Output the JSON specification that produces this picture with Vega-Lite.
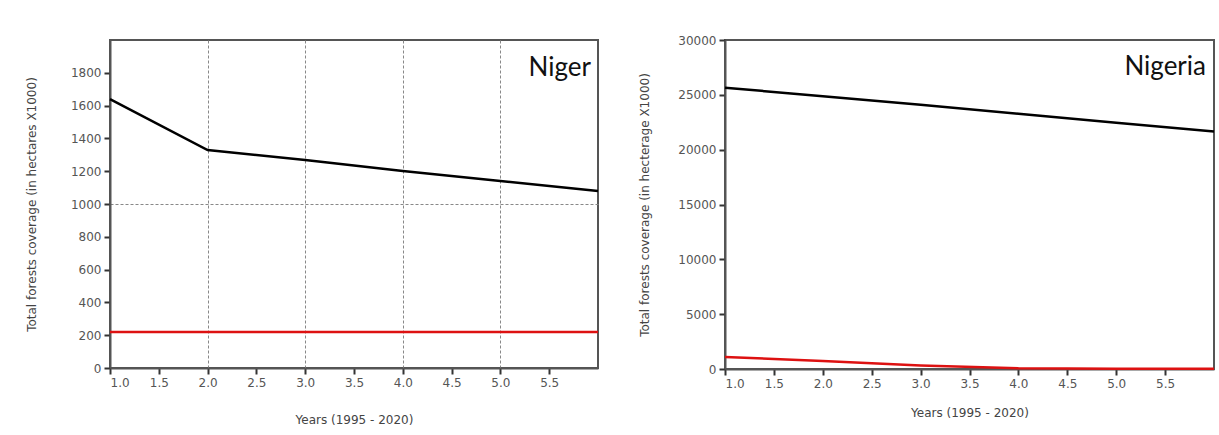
{
  "$schema": "https://vega.github.io/schema/vega-lite/v6.json",
  "background": "white",
  "padding": {"left": 24, "top": 33, "right": 0, "bottom": 0},
  "spacing": 33,
  "config": {
    "view": {"stroke": "#555", "strokeWidth": 2},
    "axis": {
      "labelFont": "DejaVu Sans", "labelFontSize": 12, "labelColor": "#555", "labelOverlap": false,
      "titleFont": "DejaVu Sans", "titleFontSize": 12, "titleFontWeight": "normal", "titleColor": "#444",
      "domainColor": "#555", "domainWidth": 2, "tickColor": "#333", "tickWidth": 2, "tickSize": 6,
      "grid": false, "labelPadding": 3
    }
  },
  "datasets": {
    "niger": [
      {"series": "Total forest", "year": 1, "value": 1640},
      {"series": "Total forest", "year": 2, "value": 1329},
      {"series": "Total forest", "year": 3, "value": 1268},
      {"series": "Total forest", "year": 4, "value": 1201},
      {"series": "Total forest", "year": 5, "value": 1140},
      {"series": "Total forest", "year": 6, "value": 1079},
      {"series": "Other", "year": 1, "value": 219},
      {"series": "Other", "year": 2, "value": 219},
      {"series": "Other", "year": 3, "value": 219},
      {"series": "Other", "year": 4, "value": 219},
      {"series": "Other", "year": 5, "value": 219},
      {"series": "Other", "year": 6, "value": 219}
    ],
    "nigeria": [
      {"series": "Total forest", "year": 1, "value": 25650},
      {"series": "Total forest", "year": 2, "value": 24880},
      {"series": "Total forest", "year": 3, "value": 24100},
      {"series": "Total forest", "year": 4, "value": 23280},
      {"series": "Total forest", "year": 5, "value": 22450},
      {"series": "Total forest", "year": 6, "value": 21650},
      {"series": "Other", "year": 1, "value": 1100},
      {"series": "Other", "year": 2, "value": 720},
      {"series": "Other", "year": 3, "value": 320},
      {"series": "Other", "year": 4, "value": 60},
      {"series": "Other", "year": 5, "value": 20},
      {"series": "Other", "year": 6, "value": 20}
    ],
    "labels": [{"country": "Niger"}, {"country": "Nigeria"}]
  },
  "hconcat": [
    {
      "width": 488,
      "height": 328,
      "layer": [
        {
          "data": {"name": "niger"},
          "mark": {"type": "line", "strokeWidth": 2.5},
          "encoding": {
            "x": {"field": "year", "type": "quantitative", "scale": {"domain": [1, 6], "nice": false, "zero": false},
                  "axis": {"values": [1, 1.5, 2, 2.5, 3, 3.5, 4, 4.5, 5, 5.5], "tickCount": 20, "format": ".1f", "labelOverlap": false,
                           "grid": true, "gridColor": "#888", "gridDash": [3, 2], "gridWidth": 1,
                           "gridOpacity": {"condition": {"test": "datum.value === 2 || datum.value === 3 || datum.value === 4 || datum.value === 5", "value": 1}, "value": 0},
                           "title": "Years (1995 - 2020)", "titlePadding": 26}},
            "y": {"field": "value", "type": "quantitative", "scale": {"domain": [0, 2000], "nice": false},
                  "axis": {"values": [0, 200, 400, 600, 800, 1000, 1200, 1400, 1600, 1800], "tickCount": 20, "format": "d", "labelOverlap": false,
                           "grid": true, "gridColor": "#888", "gridDash": [3, 2], "gridWidth": 1,
                           "gridOpacity": {"condition": {"test": "datum.value === 1000", "value": 1}, "value": 0},
                           "title": "Total forests coverage (in hectares X1000)", "titlePadding": 32}},
            "color": {"field": "series", "type": "nominal", "scale": {"domain": ["Total forest", "Other"], "range": ["#000000", "#dd1111"]}, "legend": null}
          }
        },
        {
          "data": {"name": "labels"},
          "transform": [{"filter": "datum.country === 'Niger'"}],
          "mark": {"type": "text", "align": "right", "baseline": "top", "font": "Lato", "fontSize": 26, "color": "#111", "dx": -7, "dy": 15},
          "encoding": {
            "x": {"datum": 6},
            "y": {"datum": 2000},
            "text": {"field": "country", "type": "nominal"}
          }
        }
      ]
    },
    {
      "width": 489,
      "height": 329,
      "layer": [
        {
          "data": {"name": "nigeria"},
          "mark": {"type": "line", "strokeWidth": 2.5},
          "encoding": {
            "x": {"field": "year", "type": "quantitative", "scale": {"domain": [1, 6], "nice": false, "zero": false},
                  "axis": {"values": [1, 1.5, 2, 2.5, 3, 3.5, 4, 4.5, 5, 5.5], "tickCount": 20, "format": ".1f", "labelOverlap": false, "title": "Years (1995 - 2020)", "titlePadding": 18}},
            "y": {"field": "value", "type": "quantitative", "scale": {"domain": [0, 30000], "nice": false},
                  "axis": {"values": [0, 5000, 10000, 15000, 20000, 25000, 30000], "tickCount": 20, "format": "d", "labelOverlap": false, "title": "Total forests coverage (in hecterage X1000)", "titlePadding": 26}},
            "color": {"field": "series", "type": "nominal", "scale": {"domain": ["Total forest", "Other"], "range": ["#000000", "#dd1111"]}, "legend": null}
          }
        },
        {
          "data": {"name": "labels"},
          "transform": [{"filter": "datum.country === 'Nigeria'"}],
          "mark": {"type": "text", "align": "right", "baseline": "top", "font": "Lato", "fontSize": 26, "color": "#111", "dx": -8, "dy": 14},
          "encoding": {
            "x": {"datum": 6},
            "y": {"datum": 30000},
            "text": {"field": "country", "type": "nominal"}
          }
        }
      ]
    }
  ]
}
